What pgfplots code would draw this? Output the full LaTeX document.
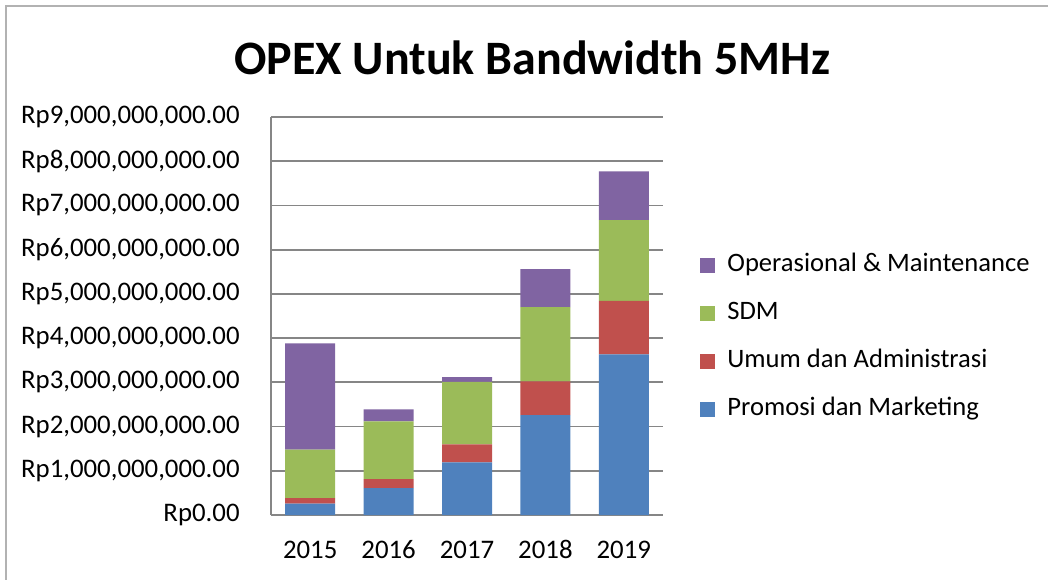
\documentclass[border=0pt]{standalone}
\usepackage{pgfplots}
\pgfplotsset{compat=1.18}
\usepackage{fontspec}
\setmainfont{Carlito}
\definecolor{cblue}{HTML}{4F81BD}
\definecolor{cred}{HTML}{C0504D}
\definecolor{cgreen}{HTML}{9BBB59}
\definecolor{cpurple}{HTML}{8064A2}
\definecolor{gridgray}{HTML}{868686}
\begin{document}
\begin{tikzpicture}
\path[use as bounding box] (0,0) rectangle (524pt,289.5pt);
\draw[gray!60, line width=1pt] (3pt,-2pt) -- (3pt,286.5pt) -- (526pt,286.5pt);
\node[anchor=base, font=\fontsize{24}{28}\selectfont\bfseries] at (266pt,252pt) {OPEX Untuk Bandwidth 5MHz};
\begin{axis}[
  at={(135.5pt,32pt)}, anchor=south west,
  scale only axis, width=196pt, height=199pt,
  ybar stacked, bar width=25pt,
  xmin=-0.5, xmax=4.5, ymin=0, ymax=9e9,
  xtick={0,1,2,3,4}, xticklabels={2015,2016,2017,2018,2019},
  ytick={0,1e9,2e9,3e9,4e9,5e9,6e9,7e9,8e9,9e9},
  yticklabels={{Rp0.00},{Rp1,000,000,000.00},{Rp2,000,000,000.00},{Rp3,000,000,000.00},{Rp4,000,000,000.00},{Rp5,000,000,000.00},{Rp6,000,000,000.00},{Rp7,000,000,000.00},{Rp8,000,000,000.00},{Rp9,000,000,000.00}},
  scaled y ticks=false,
  major tick length=0pt,
  tick style={draw=none},
  ymajorgrids, grid style={gridgray, line width=0.9pt},
  axis x line*=bottom, axis y line*=left,
  axis line style={gridgray, line width=0.9pt, -},
  ticklabel style={font=\fontsize{13.4}{16}\selectfont},
  yticklabel style={anchor=east, inner sep=0pt, xshift=-15.5pt},
  xticklabel style={anchor=base, inner sep=0pt, yshift=-21.5pt},
  legend style={at={(1.0944,0.446)}, anchor=west, draw=none, fill=none,
    inner sep=0pt, row sep=12pt, column sep=6pt,
    nodes={inner sep=0pt, text height=9pt, text depth=3pt, font=\fontsize{13.3}{16}\selectfont}},
  legend cell align=left,
  reverse legend,
  legend image code/.code={\fill[#1] (0pt,-3.75pt) rectangle (7.5pt,3.75pt);},
]
\addplot[fill=cblue, draw=none] coordinates {(0,0.26e9) (1,0.61e9) (2,1.19e9) (3,2.26e9) (4,3.63e9)};
\addplot[fill=cred, draw=none] coordinates {(0,0.12e9) (1,0.20e9) (2,0.41e9) (3,0.76e9) (4,1.21e9)};
\addplot[fill=cgreen, draw=none] coordinates {(0,1.10e9) (1,1.31e9) (2,1.41e9) (3,1.68e9) (4,1.83e9)};
\addplot[fill=cpurple, draw=none] coordinates {(0,2.40e9) (1,0.27e9) (2,0.11e9) (3,0.86e9) (4,1.10e9)};
\legend{Promosi dan Marketing, Umum dan Administrasi, SDM, Operasional \& Maintenance}
\end{axis}
\end{tikzpicture}
\end{document}
